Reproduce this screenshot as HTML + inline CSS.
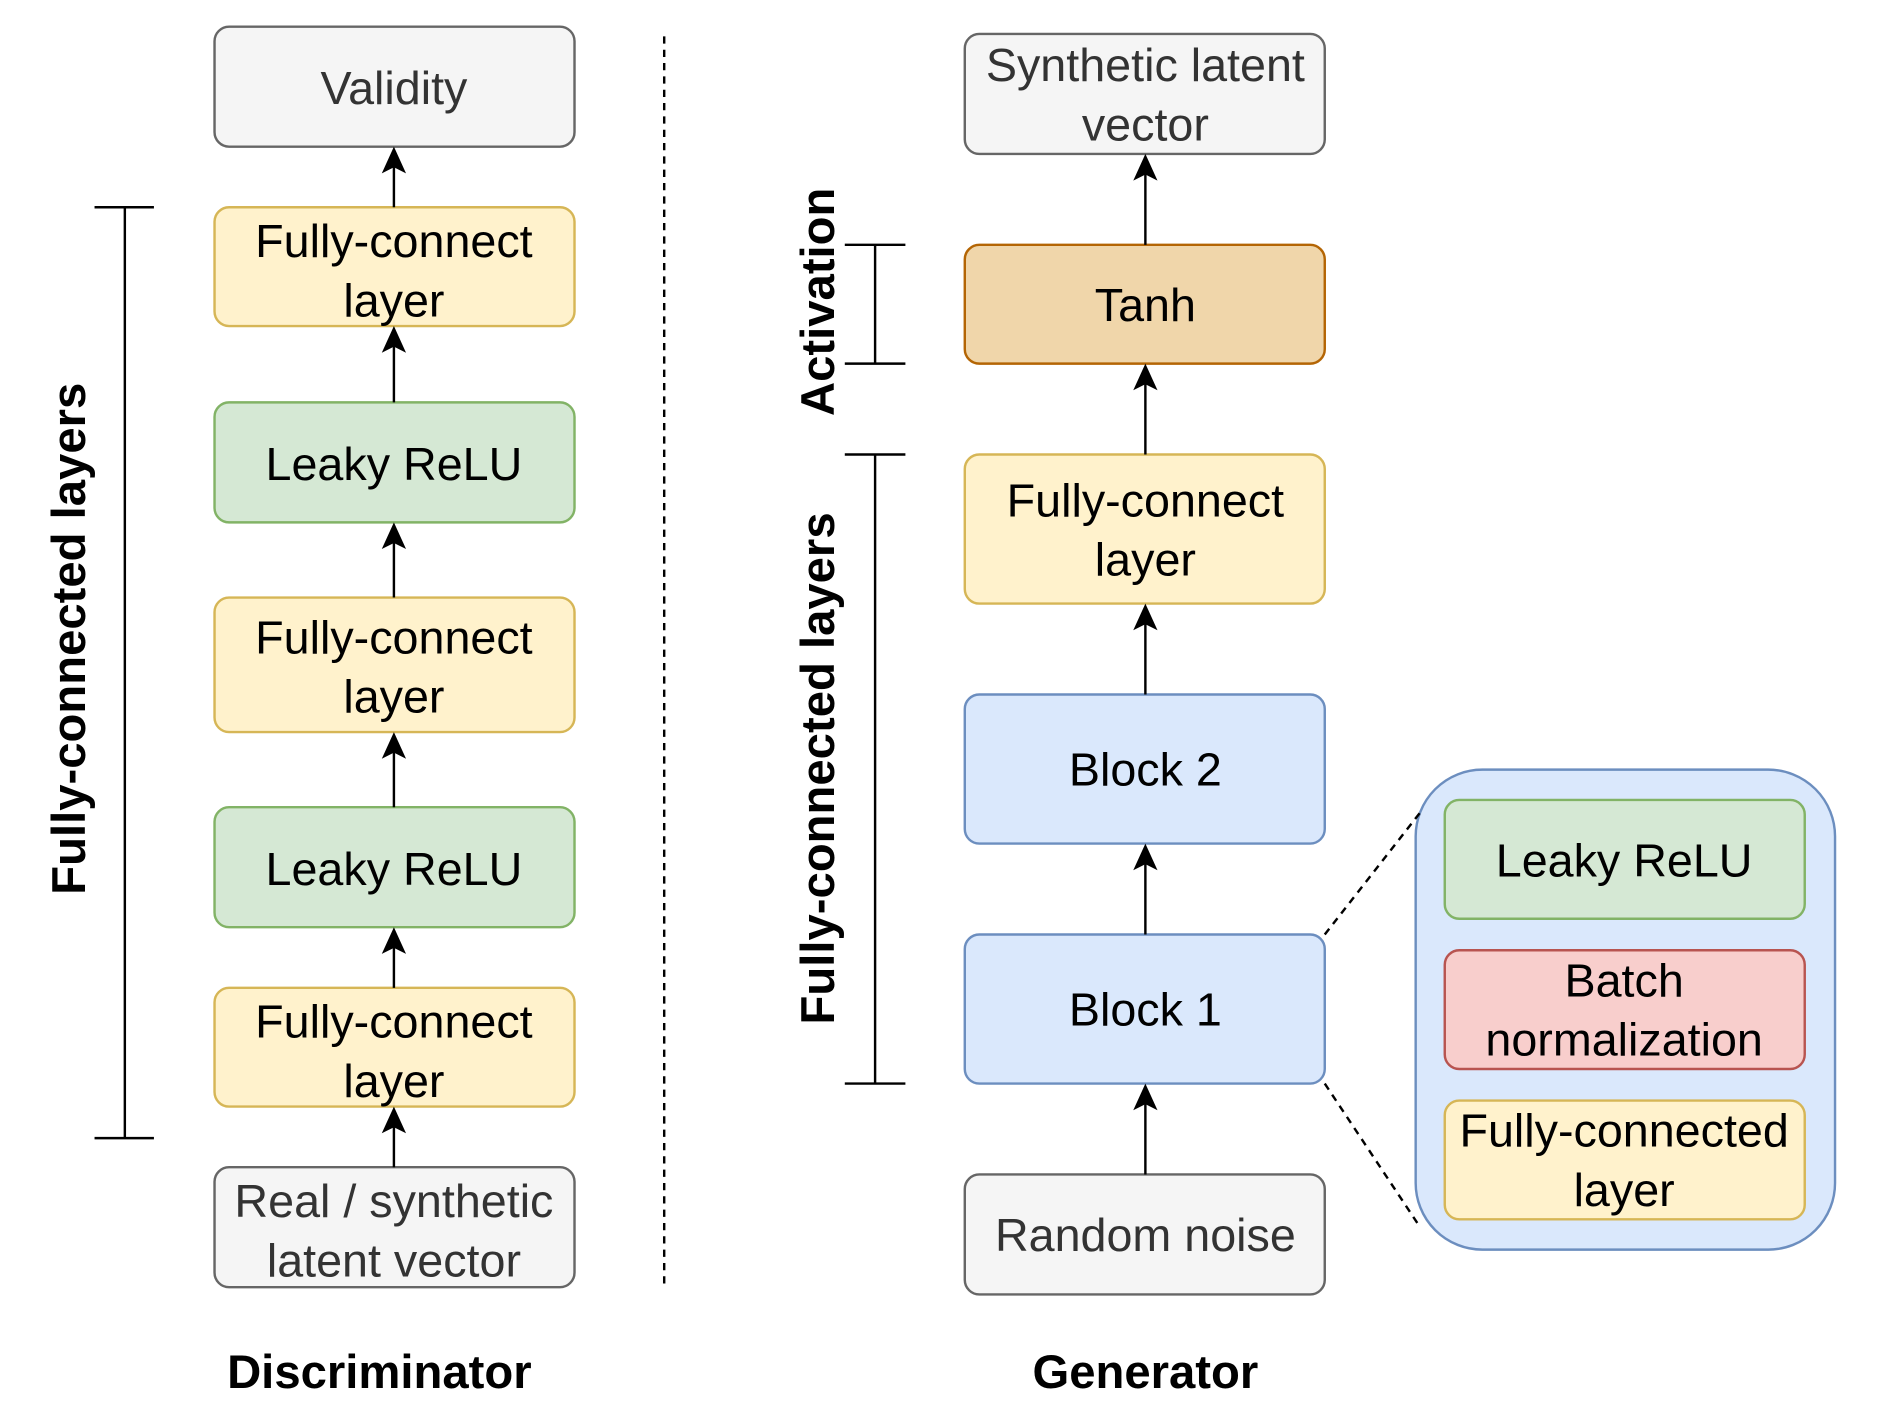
<!DOCTYPE html>
<html><head><meta charset="utf-8"><style>
html,body{margin:0;padding:0;background:#fff}
svg{display:block}
text{font-family:"Liberation Sans",Arial,sans-serif;text-anchor:middle}
</style></head><body>
<svg width="1900" height="1425" viewBox="0 0 1567.6 1175.7" preserveAspectRatio="none" xmlns="http://www.w3.org/2000/svg">
<g stroke-width="2">
<rect x="177" y="22" width="297" height="99" rx="12" fill="#f5f5f5" stroke="#666"/>
<rect x="177" y="171" width="297" height="98" rx="12" fill="#fff2cc" stroke="#d6b656"/>
<rect x="177" y="332" width="297" height="99" rx="12" fill="#d5e8d4" stroke="#82b366"/>
<rect x="177" y="493" width="297" height="111" rx="12" fill="#fff2cc" stroke="#d6b656"/>
<rect x="177" y="666" width="297" height="99" rx="12" fill="#d5e8d4" stroke="#82b366"/>
<rect x="177" y="815" width="297" height="98" rx="12" fill="#fff2cc" stroke="#d6b656"/>
<rect x="177" y="963" width="297" height="99" rx="12" fill="#f5f5f5" stroke="#666"/>
<rect x="796" y="28" width="297" height="99" rx="12" fill="#f5f5f5" stroke="#666"/>
<rect x="796" y="202" width="297" height="98" rx="12" fill="#f0d6aa" stroke="#b46504"/>
<rect x="796" y="375" width="297" height="123" rx="12" fill="#fff2cc" stroke="#d6b656"/>
<rect x="796" y="573" width="297" height="123" rx="12" fill="#dae8fc" stroke="#6c8ebf"/>
<rect x="796" y="771" width="297" height="123" rx="12" fill="#dae8fc" stroke="#6c8ebf"/>
<rect x="796" y="969" width="297" height="99" rx="12" fill="#f5f5f5" stroke="#666"/>
<rect x="1168" y="635" width="346" height="396" rx="55" fill="#dae8fc" stroke="#6c8ebf"/>
<rect x="1192" y="660" width="297" height="98" rx="12" fill="#d5e8d4" stroke="#82b366"/>
<rect x="1192" y="784" width="297" height="98" rx="12" fill="#f8cecc" stroke="#b85450"/>
<rect x="1192" y="908" width="297" height="98" rx="12" fill="#fff2cc" stroke="#d6b656"/>
</g>
<g stroke="#000" stroke-width="2" fill="none">
<line x1="1093" y1="771" x2="1172" y2="670" stroke-dasharray="6,5"/>
<line x1="1093" y1="894" x2="1172" y2="1013" stroke-dasharray="6,5"/>
<line x1="548" y1="30" x2="548" y2="1062" stroke-dasharray="6,5"/>
<path d="M103 171V939M78 171H127M78 939H127"/>
<path d="M722 202V300M697 202H747M697 300H747"/>
<path d="M722 375V894M697 375H747M697 894H747"/>
<path d="M325 171V130M325 332V279M325 493V441M325 666V614M325 815V775M325 963V923"/>
<path d="M945 202V136M945 375V310M945 573V508M945 771V706M945 969V904"/>
</g>
<g fill="#000">
<path d="M325 121l-10 22l10-5l10 5z"/>
<path d="M325 269l-10 22l10-5l10 5z"/>
<path d="M325 431l-10 22l10-5l10 5z"/>
<path d="M325 604l-10 22l10-5l10 5z"/>
<path d="M325 765l-10 22l10-5l10 5z"/>
<path d="M325 913l-10 22l10-5l10 5z"/>
<path d="M945 127l-10 22l10-5l10 5z"/>
<path d="M945 300l-10 22l10-5l10 5z"/>
<path d="M945 498l-10 22l10-5l10 5z"/>
<path d="M945 696l-10 22l10-5l10 5z"/>
<path d="M945 894l-10 22l10-5l10 5z"/>
</g>
<g font-size="38.5">
<text x="325" y="86" fill="#333">Validity</text>
<text x="325" y="212">Fully-connect</text><text x="325" y="261">layer</text>
<text x="325" y="396">Leaky ReLU</text>
<text x="325" y="539">Fully-connect</text><text x="325" y="588">layer</text>
<text x="325" y="730">Leaky ReLU</text>
<text x="325" y="856">Fully-connect</text><text x="325" y="905">layer</text>
<text x="325" y="1004" fill="#333">Real / synthetic</text><text x="325" y="1053" fill="#333">latent vector</text>
<text x="945" y="67" fill="#333">Synthetic latent</text><text x="945" y="116" fill="#333">vector</text>
<text x="945" y="265">Tanh</text>
<text x="945" y="426">Fully-connect</text><text x="945" y="475">layer</text>
<text x="945" y="648">Block 2</text>
<text x="945" y="846">Block 1</text>
<text x="945" y="1032" fill="#333">Random noise</text>
<text x="1340" y="723">Leaky ReLU</text>
<text x="1340" y="822">Batch</text><text x="1340" y="871">normalization</text>
<text x="1340" y="946">Fully-connected</text><text x="1340" y="995">layer</text>
</g>
<g font-size="39" font-weight="bold">
<text x="313" y="1145">Discriminator</text>
<text x="945" y="1145">Generator</text>
<text transform="translate(70,527) rotate(-90)">Fully-connected layers</text>
<text transform="translate(688,249) rotate(-90)">Activation</text>
<text transform="translate(688,634) rotate(-90)">Fully-connected layers</text>
</g>
</svg>
</body></html>
